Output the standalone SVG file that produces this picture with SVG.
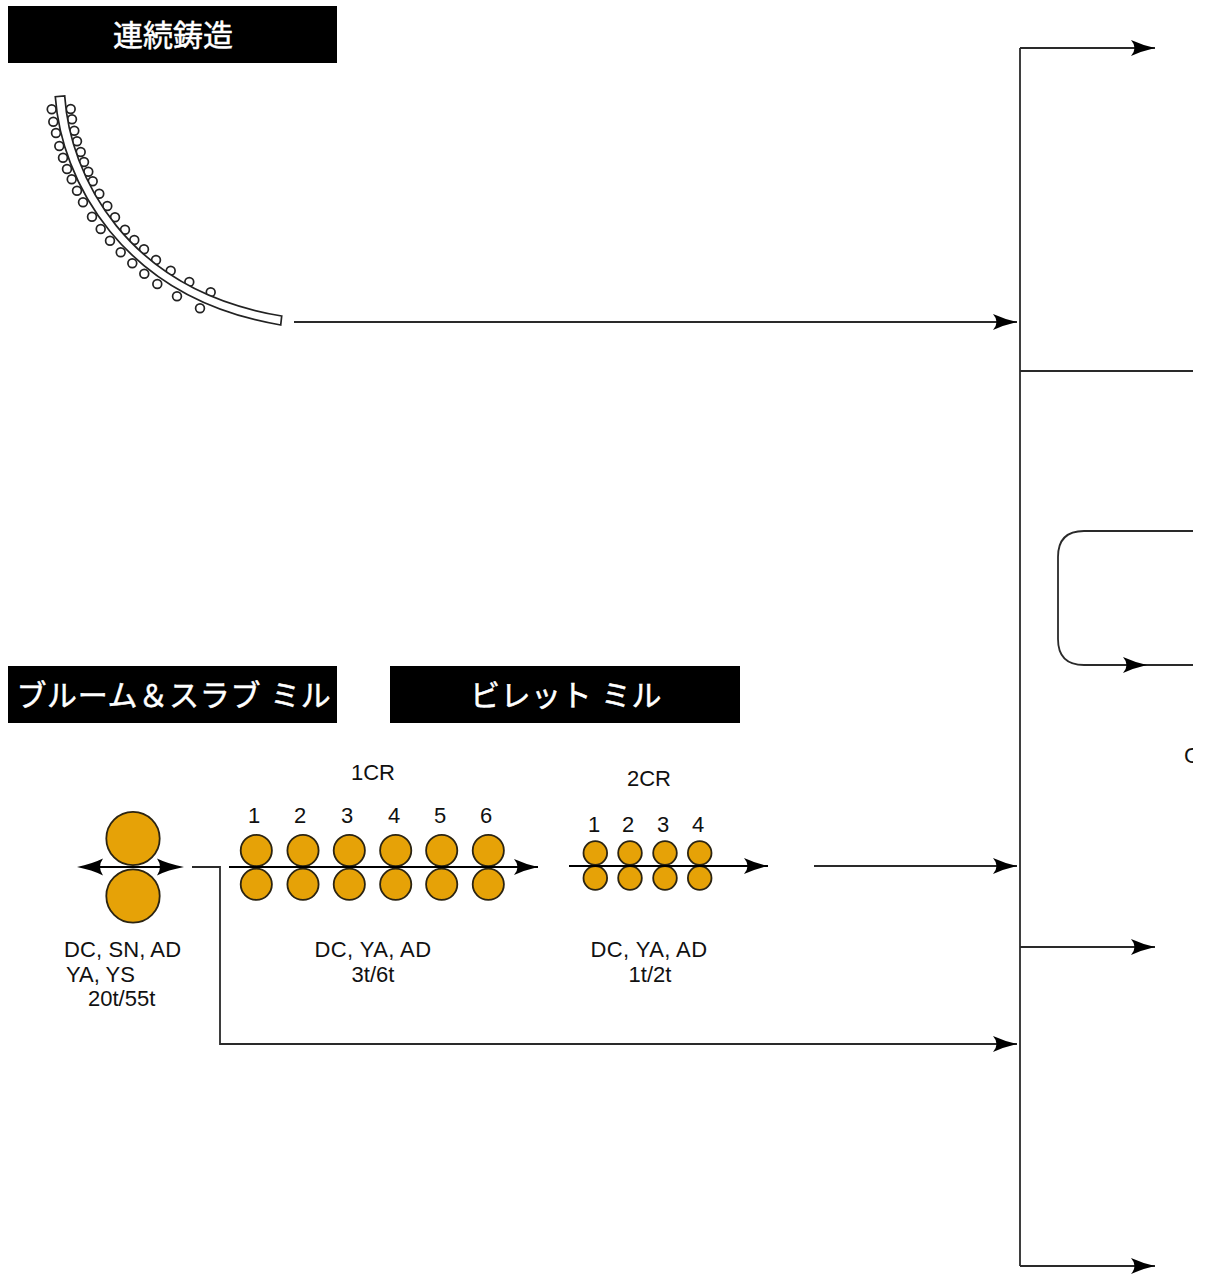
<svg xmlns="http://www.w3.org/2000/svg" width="1205" height="1275" viewBox="0 0 1205 1275">
<style>
.conn{fill:none;stroke:#2a2a2a;stroke-width:1.8}
.arr{marker-end:url(#ah)}
.hdr{fill:#000}
.ht{font-family:"Liberation Sans","Noto Sans CJK JP",sans-serif;font-size:30px;fill:#fff;stroke:#fff;stroke-width:.5;text-anchor:middle}
.t{font-family:"Liberation Sans","Noto Sans CJK JP",sans-serif;font-size:22px;fill:#111}
.m{text-anchor:middle}
.sp{letter-spacing:.4px}
.roll{fill:#e6a207;stroke:#2b2412;stroke-width:1.8}
.g{fill:#fff;stroke:#222;stroke-width:1.7}
</style>
<defs>
<marker id="ah" markerUnits="userSpaceOnUse" markerWidth="26" markerHeight="18" refX="24" refY="8" orient="auto" overflow="visible"><path d="M0,0Q11,5 24,8Q11,11 0,16Q7,8 0,0z" fill="#000"/></marker>
<clipPath id="cl"><rect x="0" y="0" width="1193" height="1275"/></clipPath>
</defs>
<rect width="1205" height="1275" fill="#fff"/>

<g id="connectors">
<path class="conn" d="M1020,1266V48"/>
<path class="conn arr" d="M1020,48H1155"/>
<path class="conn arr" d="M294,322H1017"/>
<path class="conn" d="M1020,371H1193"/>
<path class="conn arr" d="M1193,531H1084Q1058,531 1058,557V639Q1058,665 1084,665H1147"/>
<path class="conn" d="M1147,665H1193"/>
<path class="conn arr" d="M814,866H1017"/>
<path class="conn arr" d="M1020,947H1155"/>
<path class="conn arr" d="M192,867H220V1044H1017"/>
<path class="conn arr" d="M1020,1266H1155"/>
</g>

<g id="header-casting"><rect class="hdr" x="8" y="6" width="329" height="57"/><text class="ht" x="173" y="46">連続鋳造</text></g>
<g id="header-bloom"><rect class="hdr" x="8" y="666" width="329" height="57"/><text class="ht" x="174" y="706" style="letter-spacing:.7px">ブルーム＆スラブ ミル</text></g>
<g id="header-billet"><rect class="hdr" x="390" y="666" width="350" height="57"/><text class="ht" x="566" y="706" style="letter-spacing:.5px">ビレット ミル</text></g>

<g id="caster">
<g class="g">
<circle cx="51.7" cy="109.3" r="4.4"/><circle cx="53.3" cy="121.7" r="4.4"/><circle cx="56" cy="133" r="4.4"/><circle cx="59.3" cy="146" r="4.4"/><circle cx="63" cy="157.7" r="4.4"/><circle cx="67" cy="169" r="4.4"/><circle cx="71.7" cy="179.3" r="4.4"/><circle cx="77" cy="190.7" r="4.4"/><circle cx="83" cy="202.3" r="4.4"/><circle cx="92" cy="216.7" r="4.4"/><circle cx="100.7" cy="229" r="4.4"/><circle cx="110" cy="240.7" r="4.4"/><circle cx="120.7" cy="252.3" r="4.4"/><circle cx="132.3" cy="263.3" r="4.4"/><circle cx="144.3" cy="273.7" r="4.4"/><circle cx="157.3" cy="284" r="4.4"/><circle cx="177" cy="296.3" r="4.4"/><circle cx="200" cy="308.3" r="4.4"/>
<circle cx="70.7" cy="109" r="4.4"/><circle cx="72" cy="119.3" r="4.4"/><circle cx="74.3" cy="130.7" r="4.4"/><circle cx="77" cy="141.3" r="4.4"/><circle cx="80.7" cy="152" r="4.4"/><circle cx="84" cy="162" r="4.4"/><circle cx="88.3" cy="171.7" r="4.4"/><circle cx="92.7" cy="181.3" r="4.4"/><circle cx="99.3" cy="193.7" r="4.4"/><circle cx="107.3" cy="206" r="4.4"/><circle cx="115" cy="217.3" r="4.4"/><circle cx="125" cy="229.7" r="4.4"/><circle cx="134.3" cy="240" r="4.4"/><circle cx="144" cy="249.3" r="4.4"/><circle cx="156" cy="260" r="4.4"/><circle cx="170.7" cy="270.7" r="4.4"/><circle cx="189.3" cy="282" r="4.4"/><circle cx="210.7" cy="292.3" r="4.4"/>
</g>
<path d="M64.7,96C70,175 125,290 281.7,316L280.7,325C120,298 61,178 55.3,96.7Z" fill="#fff" stroke="#222" stroke-width="1.7"/>
</g>

<g id="bloom-mill">
<circle class="roll" cx="133" cy="838.5" r="26.7"/>
<circle class="roll" cx="133" cy="896" r="26.7"/>
<path d="M90,867H175" stroke="#000" stroke-width="1.8"/>
<path d="M157,858.6Q168,864 184,867Q168,870 157,875.4Q163,867 157,858.6z M103,858.6Q92,864 77,867Q92,870 103,875.4Q97,867 103,858.6z" fill="#000"/>
<text class="t" x="64" y="957" style="letter-spacing:.1px">DC, SN, AD</text>
<text class="t" x="66" y="982">YA, YS</text>
<text class="t" x="88" y="1006">20t/55t</text>
</g>

<g id="mill-1cr">
<circle class="roll" cx="256.3" cy="850.5" r="15.6"/><circle class="roll" cx="256.3" cy="884.3" r="15.6"/>
<circle class="roll" cx="303" cy="850.5" r="15.6"/><circle class="roll" cx="303" cy="884.3" r="15.6"/>
<circle class="roll" cx="349.3" cy="850.5" r="15.6"/><circle class="roll" cx="349.3" cy="884.3" r="15.6"/>
<circle class="roll" cx="395.7" cy="850.5" r="15.6"/><circle class="roll" cx="395.7" cy="884.3" r="15.6"/>
<circle class="roll" cx="441.7" cy="850.5" r="15.6"/><circle class="roll" cx="441.7" cy="884.3" r="15.6"/>
<circle class="roll" cx="488.3" cy="850.5" r="15.6"/><circle class="roll" cx="488.3" cy="884.3" r="15.6"/>
<path class="conn arr" d="M229,867H538" style="stroke:#000"/>
<text class="t m" x="373" y="780">1CR</text>
<text class="t m" x="254" y="823">1</text><text class="t m" x="300" y="823">2</text><text class="t m" x="347" y="823">3</text><text class="t m" x="394" y="823">4</text><text class="t m" x="440" y="823">5</text><text class="t m" x="486" y="823">6</text>
<text class="t m sp" x="373" y="957">DC, YA, AD</text>
<text class="t m" x="373" y="982">3t/6t</text>
</g>

<g id="mill-2cr">
<circle class="roll" cx="595.3" cy="853" r="11.8"/><circle class="roll" cx="595.3" cy="878" r="11.8"/>
<circle class="roll" cx="630" cy="853" r="11.8"/><circle class="roll" cx="630" cy="878" r="11.8"/>
<circle class="roll" cx="665" cy="853" r="11.8"/><circle class="roll" cx="665" cy="878" r="11.8"/>
<circle class="roll" cx="699.7" cy="853" r="11.8"/><circle class="roll" cx="699.7" cy="878" r="11.8"/>
<path class="conn arr" d="M569,866H768" style="stroke:#000"/>
<text class="t m" x="649" y="786">2CR</text>
<text class="t m" x="594" y="832">1</text><text class="t m" x="628" y="832">2</text><text class="t m" x="663" y="832">3</text><text class="t m" x="698" y="832">4</text>
<text class="t m sp" x="649" y="957">DC, YA, AD</text>
<text class="t m" x="650" y="982">1t/2t</text>
</g>

<g id="cut-label" clip-path="url(#cl)"><text class="t" x="1184" y="763">C</text></g>
</svg>
